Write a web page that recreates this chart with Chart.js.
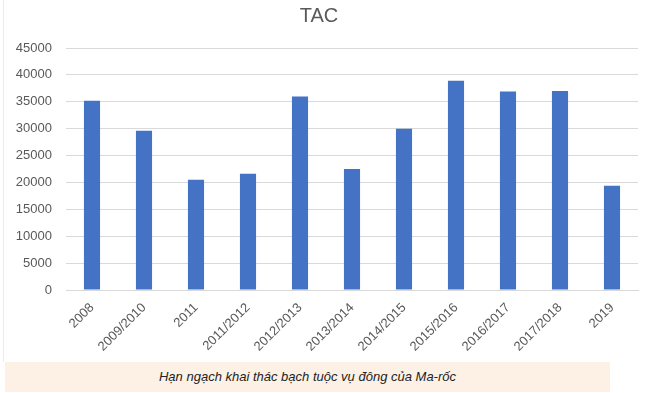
<!DOCTYPE html>
<html>
<head>
<meta charset="utf-8">
<script src="https://cdn.jsdelivr.net/npm/chart.js@4"></script>
<style>
  body { margin: 0; background: #fff; width: 647px; height: 393px; overflow: hidden; position: relative; }
  #wrap { position: absolute; left: 0; top: 0; width: 647px; height: 360px; }
  #edge { position: absolute; left: 3px; top: 0; width: 1px; height: 362px; background: #f3ebe0; }
  #caption {
    position: absolute; left: 5px; top: 362px; width: 605px; height: 30px;
    background: #fdf1e6; color: #222;
    font: italic 13px "Liberation Sans", Arial, sans-serif;
    text-align: center; line-height: 30px;
  }
</style>
</head>
<body>
<div id="edge"></div>
<div id="wrap"><canvas id="myChart"></canvas></div>
<div id="caption">Hạn ngạch khai thác bạch tuộc vụ đông của Ma-rốc</div>
<script>
const seasons = ['2008', '2009/2010', '2011', '2011/2012', '2012/2013', '2013/2014',
  '2014/2015', '2015/2016', '2016/2017', '2017/2018', '2019'];
const tac = [35200, 29600, 20500, 21600, 36000, 22500, 30000, 38900, 36900, 37000, 19400];
const yTicks = [0, 5000, 10000, 15000, 20000, 25000, 30000, 35000, 40000, 45000];

const ctx = document.getElementById('myChart');

new Chart(ctx, {
  type: 'bar',
  data: {
    labels: seasons,
    datasets: [{
      label: 'TAC',
      data: tac,
      backgroundColor: '#4472C4',
      categoryPercentage: 1,
      barPercentage: 0.31
    }]
  },
  options: {
    responsive: true,
    maintainAspectRatio: false,
    animation: false,
    layout: { padding: { left: 0, right: 9, top: 0, bottom: 0 } },
    plugins: {
      legend: { display: false },
      tooltip: { enabled: false },
      title: {
        display: true,
        text: 'TAC',
        color: '#595959',
        font: { family: 'Liberation Sans', size: 20, weight: 'normal' },
        padding: { top: 4, bottom: 20 }
      }
    },
    scales: {
      x: {
        grid: { display: false },
        border: { color: '#d9d9d9' },
        ticks: {
          color: '#595959',
          font: { family: 'Liberation Sans', size: 13 },
          maxRotation: 45,
          minRotation: 45,
          padding: 2
        },
        afterFit: (s) => { s.height = 70; }
      },
      y: {
        min: 0,
        max: 45000,
        afterBuildTicks: (s) => { s.ticks = yTicks.map(v => ({ value: v })); },
        grid: { color: '#d9d9d9', drawTicks: false },
        border: { display: false },
        ticks: {
          color: '#595959',
          font: { family: 'Liberation Sans', size: 13 },
          padding: 14,
          callback: (v) => String(v)
        },
        afterFit: (s) => { s.width = 66; }
      }
    }
  }
});
</script>
</body>
</html>
